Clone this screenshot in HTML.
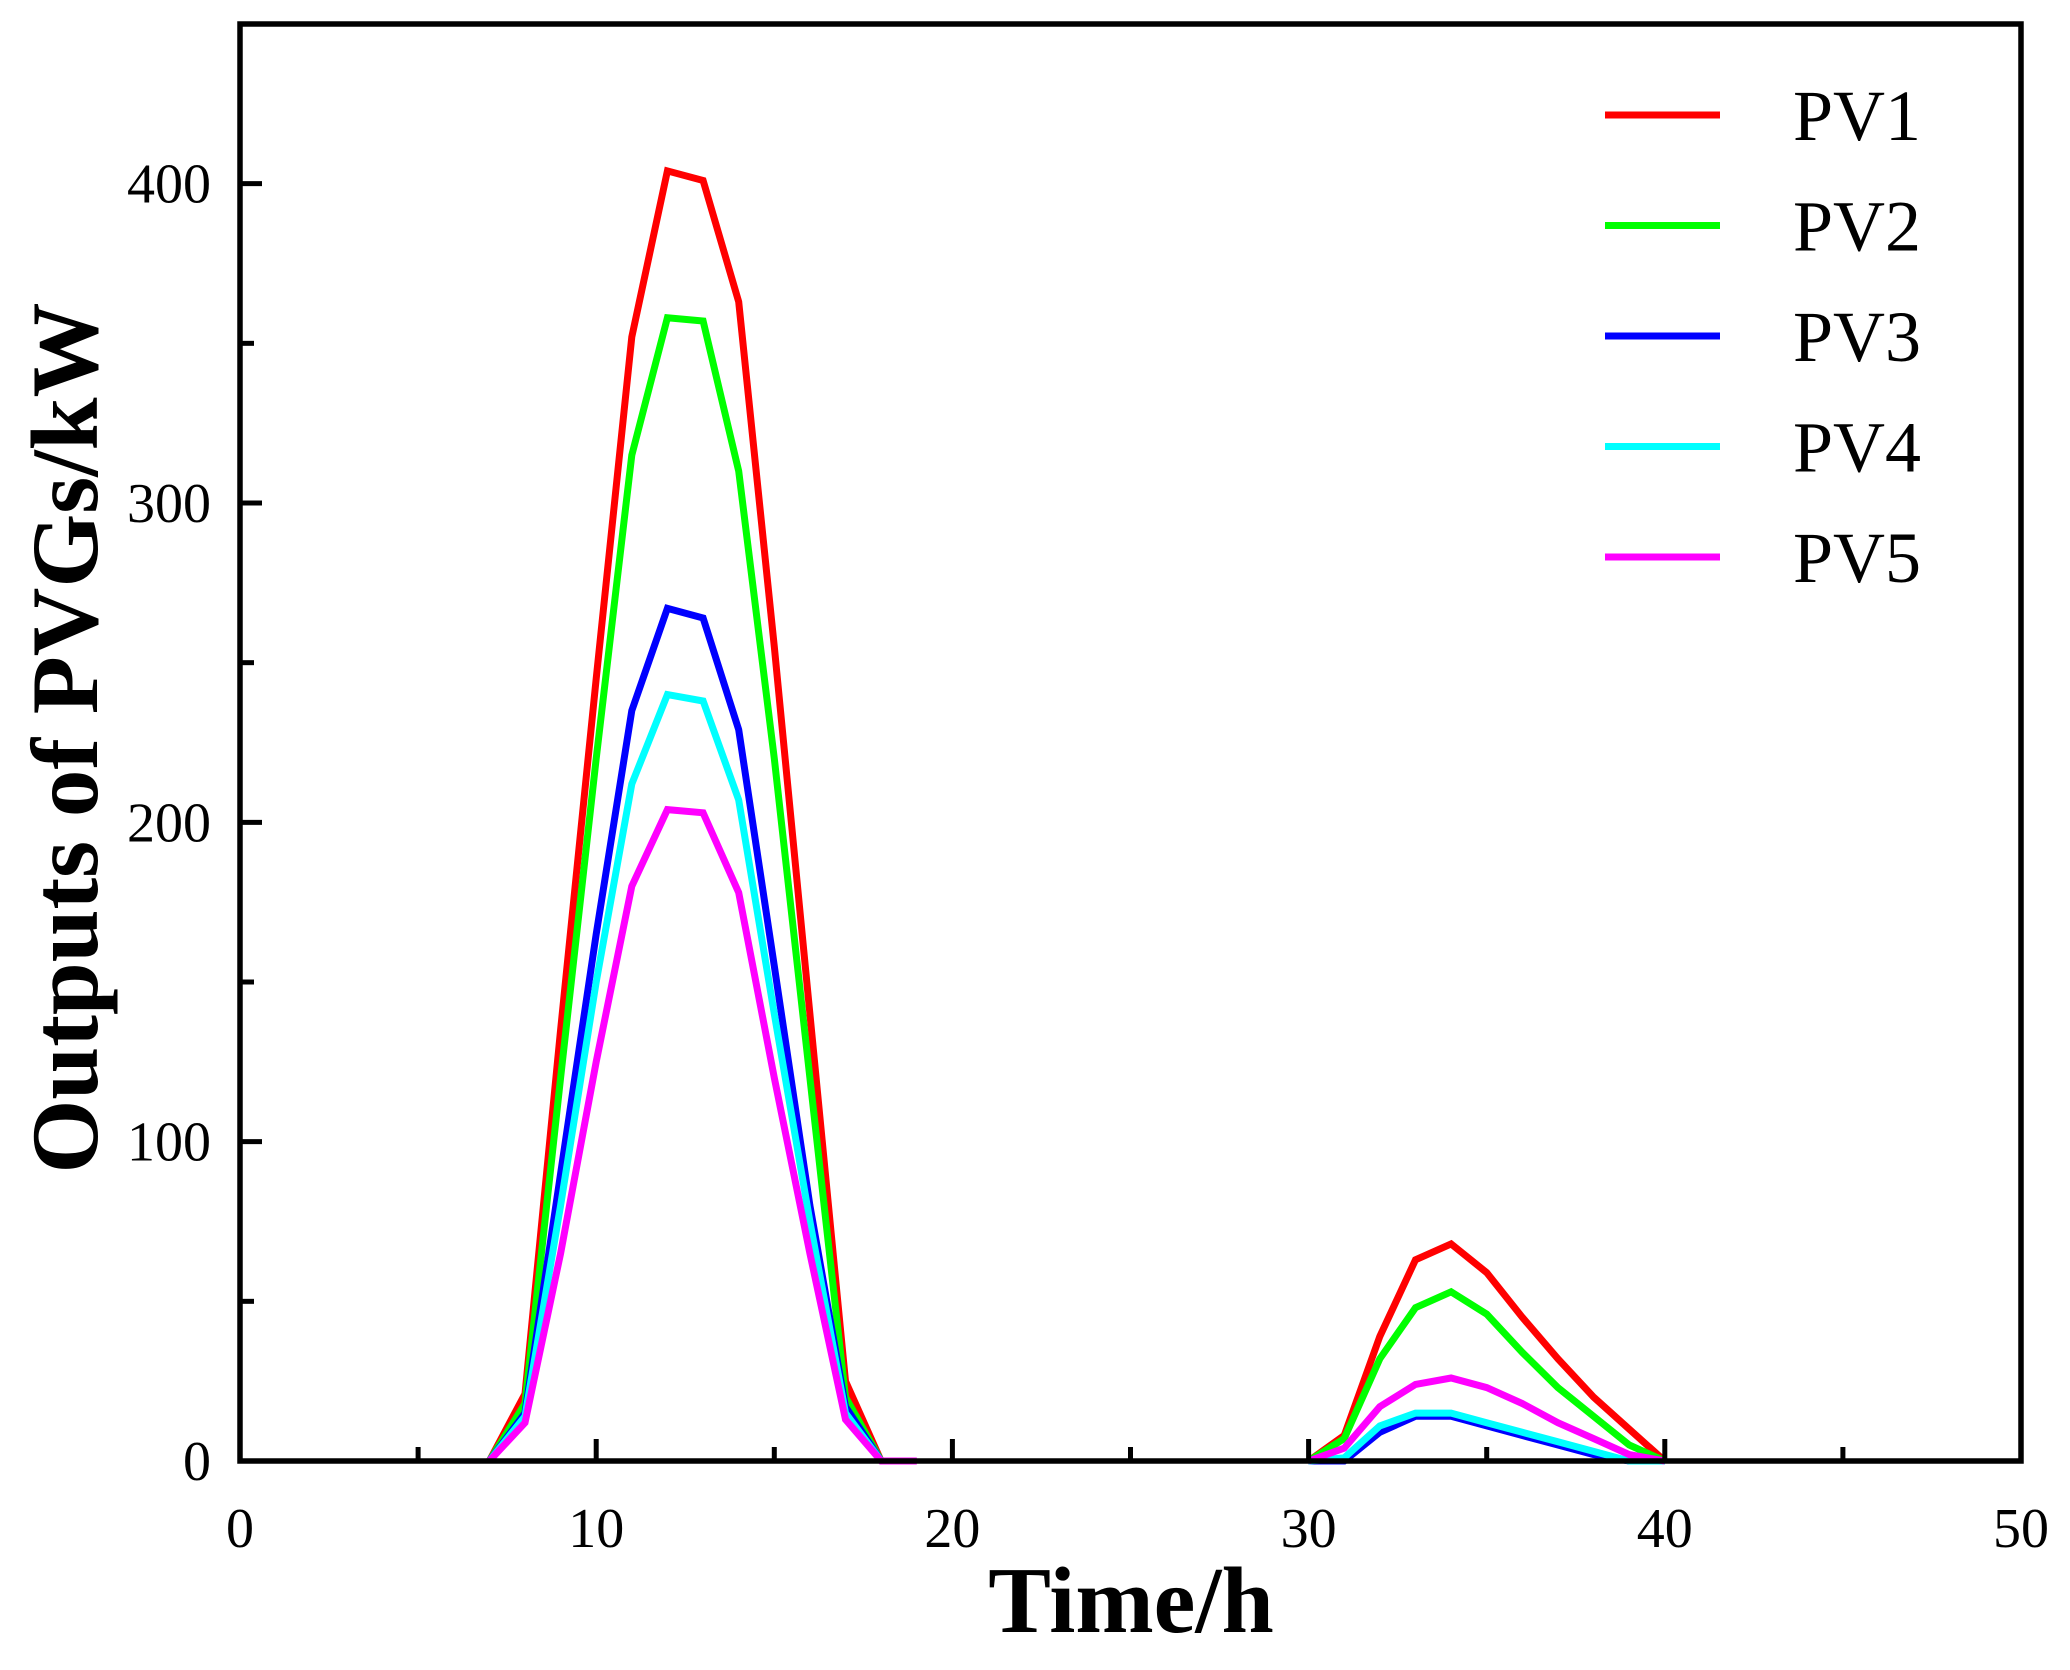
<!DOCTYPE html>
<html><head><meta charset="utf-8"><style>
html,body{margin:0;padding:0;background:#fff;}
svg{display:block;font-family:"Liberation Serif",serif;}
</style></head><body>
<svg id="chart" width="2070" height="1670" viewBox="0 0 2070 1670" xmlns="http://www.w3.org/2000/svg">
<g id="series"></g>
<g id="axes"></g>
<text x="1131" y="1632" font-size="94" font-weight="bold" text-anchor="middle">Time/h</text>
<text transform="translate(97,738) rotate(-90)" font-size="95" font-weight="bold" text-anchor="middle">Outputs of PVGs/kW</text>
<g id="legend"></g>
</svg>
<script>
const seriesNames = ["PV1","PV2","PV3","PV4","PV5"];
const seriesColors = ["#ff0000","#00ff00","#0000ff","#00ffff","#ff00ff"];
const N = null;
const pv1 = [N,N,N,N,N,N,N,0,21,135,245,352,404,401,363,255,140,25,0,N,N,N,N,N,N,N,N,N,N,N,0,8,39,63,68,59,45,32,20,10,0];
const pv2 = [N,N,N,N,N,N,N,0,18,120,220,315,358,357,310,220,120,20,0,N,N,N,N,N,N,N,N,N,N,N,0,7,32,48,53,46,34,23,14,5,0];
const pv3 = [N,N,N,N,N,N,N,0,15,90,165,235,267,264,229,155,80,17,0,N,N,N,N,N,N,N,N,N,N,N,0,0,9,14,14,11,8,5,2,0,0];
const pv4 = [N,N,N,N,N,N,N,0,14,80,150,212,240,238,207,140,75,15,0,N,N,N,N,N,N,N,N,N,N,N,0,1,11,15,15,12,9,6,3,0,0];
const pv5 = [N,N,N,N,N,N,N,0,12,65,125,180,204,203,178,120,65,13,0,0,N,N,N,N,N,N,N,N,N,N,0,4,17,24,26,23,18,12,7,2,0];
const xTicks = [0,10,20,30,40,50];
const xMinor = [5,15,25,35,45];
const yTicks = [0,100,200,300,400];
const yMinor = [50,150,250,350];

const NS="http://www.w3.org/2000/svg";
const L=240,R=2021,T=24,B=1461;
const xMax=50,yMax=450;
const sx=v=>L+(R-L)*v/xMax;
const sy=v=>B-(B-T)*v/yMax;
function mk(tag,attrs,parent){const e=document.createElementNS(NS,tag);for(const k in attrs)e.setAttribute(k,attrs[k]);parent.appendChild(e);return e;}
const sg=document.getElementById('series');
const all=[pv1,pv2,pv3,pv4,pv5];
all.forEach((d,i)=>{
  let segs=[],cur=[];
  d.forEach((v,h)=>{
    if(v===null){if(cur.length)segs.push(cur);cur=[];}
    else cur.push(sx(h).toFixed(1)+','+sy(v).toFixed(1));
  });
  if(cur.length)segs.push(cur);
  segs.forEach(s=>{
    const p=mk('polyline',{points:s.join(' '),fill:'none',stroke:seriesColors[i],'stroke-width':7,'stroke-linejoin':'miter'},sg);
    
    
  });
});
const ag=document.getElementById('axes');
const frame=mk('rect',{x:L,y:T,width:R-L,height:B-T,fill:'none',stroke:'#000','stroke-width':5.5},ag);


xTicks.forEach(v=>{
  const t=mk('line',{x1:sx(v),x2:sx(v),y1:B,y2:B-22,stroke:'#000','stroke-width':5},ag);
  
  
  const tx=mk('text',{x:sx(v),y:1547,'font-size':56,'text-anchor':'middle'},ag);
  tx.textContent=v;
  
  
});
xMinor.forEach(v=>{
  const t=mk('line',{x1:sx(v),x2:sx(v),y1:B,y2:B-14,stroke:'#000','stroke-width':5},ag);
  
  
});
yTicks.forEach(v=>{
  const t=mk('line',{x1:L,x2:L+22,y1:sy(v),y2:sy(v),stroke:'#000','stroke-width':5},ag);
  
  
  const tx=mk('text',{x:211,y:sy(v)+19,'font-size':56,'text-anchor':'end'},ag);
  tx.textContent=v;
  
  
});
yMinor.forEach(v=>{
  const t=mk('line',{x1:L,x2:L+14,y1:sy(v),y2:sy(v),stroke:'#000','stroke-width':5},ag);
  
  
});
const lg=document.getElementById('legend');
seriesNames.forEach((n,i)=>{
  const y=115+i*110.5;
  const ln=mk('line',{x1:1605,x2:1720,y1:y,y2:y,stroke:seriesColors[i],'stroke-width':7},lg);
  
  
  const tx=mk('text',{x:1793,y:y+25,'font-size':72},lg);
  tx.textContent=n;
  
  
});
</script>
</body></html>
